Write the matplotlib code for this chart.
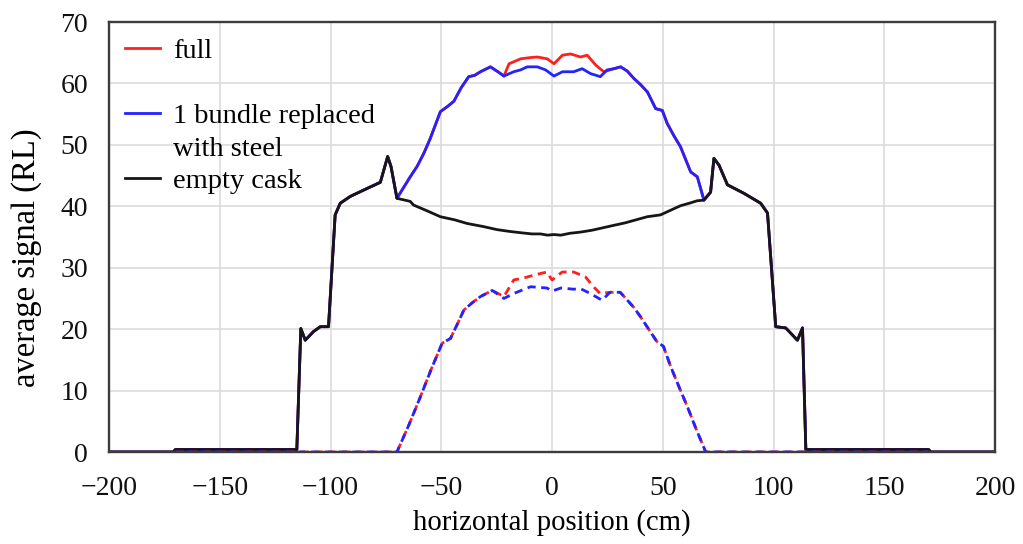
import matplotlib
matplotlib.use("Agg")
import matplotlib.pyplot as plt
import numpy as np

plt.rcParams['font.family'] = ['Liberation Serif', 'DejaVu Serif']
plt.rcParams['axes.unicode_minus'] = True

# ---- data ----
# shared outer profile (all three series coincide there)
left_x = [-200, -171, -170, -115.2, -113.4, -111.4, -107.7, -104.6, -100.9, -97.9, -95.6,
          -91.1, -83.5, -77.5, -74.2, -72.7, -70]
left_y = [0, 0, 0.4, 0.4, 20.1, 18.2, 19.6, 20.4, 20.4, 38.6, 40.5,
          41.6, 42.9, 43.9, 48.1, 46.5, 41.3]
right_x = [68.6, 71.6, 73.1, 75.4, 79.2, 86.7, 94.2, 97.3, 101, 105.5, 110.8, 113.1,
           114.6, 170, 171, 200]
right_y = [41.0, 42.3, 47.8, 46.7, 43.5, 42.1, 40.5, 38.9, 20.4, 20.2, 18.2, 20.2,
           0.4, 0.4, 0, 0]

# empty cask, central part
empty_mid_x = [-64, -62.5, -56, -50.4, -44, -38.3, -31, -24.8, -19, -14.2, -9, -5.2, -2,
               0.8, 4, 8, 12.9, 18, 23, 27.9, 33, 38, 43, 49, 55, 58.1, 62, 65.6]
empty_mid_y = [40.8, 40.2, 39.2, 38.3, 37.8, 37.2, 36.7, 36.2, 35.9, 35.7, 35.5, 35.5, 35.3,
               35.4, 35.3, 35.6, 35.8, 36.1, 36.5, 36.9, 37.3, 37.8, 38.3, 38.6, 39.6, 40.1,
               40.5, 40.9]

# full, central part (solid)
full_mid_x = [-64, -60.9, -57.9, -55, -50.4, -47, -44.3, -41, -37.6, -35, -32.3, -27.8, -24,
              -21.7, -19.4, -14.2, -10, -6.6, -2.1, 0.9, 4.7, 8.4, 12.9, 15.9, 19.7, 23.4,
              28, 31, 34, 37, 40, 43.1, 46.8, 49.8, 52, 55, 58, 62.6, 65.6]
full_mid_y = [44.8, 46.5, 48.6, 51.0, 55.4, 56.3, 57.1, 59.3, 61.1, 61.3, 61.9, 62.7, 61.8,
              61.2, 63.2, 64.0, 64.2, 64.3, 64.0, 63.2, 64.6, 64.8, 64.3, 64.6, 63.0, 61.9,
              62.4, 62.7, 62.0, 60.8, 59.8, 58.6, 55.9, 55.6, 53.5, 51.5, 49.7, 45.6, 44.8]

# 1 bundle replaced with steel, central part (solid)
steel_mid_x = [-64, -60.9, -57.9, -55, -50.4, -47, -44.3, -41, -37.6, -35, -32.3, -27.8, -24,
               -21.7, -17.3, -14.2, -11.2, -6.6, -2.9, 0.9, 4.7, 9.8, 13.6, 17.4, 21.8, 24.9,
               28, 31, 34, 37, 40, 43.1, 46.8, 49.8, 52, 55, 58, 62.6, 65.6]
steel_mid_y = [44.8, 46.5, 48.6, 51.0, 55.4, 56.3, 57.1, 59.3, 61.1, 61.3, 61.9, 62.7, 61.8,
               61.2, 61.9, 62.2, 62.7, 62.7, 62.2, 61.2, 61.9, 61.9, 62.4, 61.6, 61.1, 62.2,
               62.4, 62.7, 62.0, 60.8, 59.8, 58.6, 55.9, 55.6, 53.5, 51.5, 49.7, 45.6, 44.8]

# dashed curves
full_dash_x = [-170, -70, -64.5, -59.4, -54.5, -49.6, -45.8, -42.5, -39.8, -36, -32.3, -27.0,
               -21.7, -17.3, -12, -8.2, -2.3, 0, 4.6, 9.8, 15.1, 18.5, 21.7, 26.2, 30.8, 36.8,
               40, 42.9, 47.3, 50.3, 53.6, 57.8, 61.1, 65, 69.4, 170]
full_dash_y = [0, 0, 4.5, 9, 13.5, 17.7, 18.5, 21, 23.1, 24.3, 25.3, 26.3,
               25.3, 28.0, 28.4, 28.8, 29.3, 28.0, 29.3, 29.3, 28.5, 27.0, 25.8, 26.0, 26.0, 23.6,
               22, 20.4, 18.0, 17.2, 13.9, 10.2, 7.4, 3.8, 0, 0]
steel_dash_x = [-170, -70, -64.5, -59.4, -54.5, -49.6, -45.8, -42.5, -39.8, -36, -32.3, -27.0,
                -21.7, -17.3, -9.7, -2.3, 0, 4.1, 9.8, 12.8, 17.3, 22.6, 26.2, 30.8, 36.8,
                40, 42.9, 47.3, 50.3, 53.6, 57.8, 61.1, 65, 69.4, 170]
steel_dash_y = [0, 0, 4.5, 9, 13.5, 17.7, 18.5, 21, 23.1, 24.3, 25.3, 26.3,
                25.0, 25.8, 26.9, 26.7, 26.2, 26.7, 26.5, 26.6, 25.8, 24.7, 26.0, 26.0, 23.6,
                22, 20.4, 18.0, 17.2, 13.9, 10.2, 7.4, 3.8, 0, 0]

labels = ["full", "1 bundle replaced", "empty cask"]
second_line = "with steel"
xticks = [-200, -150, -100, -50, 0, 50, 100, 150, 200]
yticks = [0, 10, 20, 30, 40, 50, 60, 70]

RED = "#ff1f1f"
BLUE = "#2323ff"
BLACK = "#161616"

full_x = left_x + full_mid_x + right_x
full_y = left_y + full_mid_y + right_y
steel_x = left_x + steel_mid_x + right_x
steel_y = left_y + steel_mid_y + right_y
empty_x = left_x + empty_mid_x + right_x
empty_y = left_y + empty_mid_y + right_y

fig = plt.figure(figsize=(10.23, 5.44), dpi=100)
ax = fig.add_axes([109/1023, (544-452)/544, (995-109)/1023, (452-22)/544])

lw = 2.0
ax.plot(full_x, full_y, color=RED, lw=lw, label=labels[0])
ax.plot(steel_x, steel_y, color=BLUE, lw=lw, label=labels[1])
ax.plot(empty_x, empty_y, color=BLACK, lw=lw, label=labels[2])
ax.plot(full_dash_x, full_dash_y, color=RED, lw=lw, linestyle=(0, (3.0, 2.0)))
ax.plot(steel_dash_x, steel_dash_y, color=BLUE, lw=lw, linestyle=(1.2, (3.0, 2.0)))

ax.set_xlim(-200, 200)
ax.set_ylim(0, 70)
ax.set_xticks(xticks)
ax.set_yticks(yticks)
ax.grid(True, color="#dcdcdc", lw=1.2)
ax.set_axisbelow(True)
for s in ax.spines.values():
    s.set_color("#3c3c3c")
    s.set_linewidth(1.7)
ax.tick_params(axis='both', length=0, labelsize=20, colors="#111111")
ax.tick_params(axis='y', pad=15)
ax.tick_params(axis='x', pad=17)
ax.set_xlabel("horizontal position (cm)", fontsize=20.7, labelpad=6)
ax.set_ylabel("average signal (RL)", fontsize=23.5)
ax.yaxis.set_label_coords((42 - 109) / 886, (452 - 258) / 430)

leg = ax.legend(loc="upper left", frameon=False, fontsize=20.5, handlelength=1.24,
                handletextpad=0.45, borderaxespad=0.2, borderpad=0.35, labelspacing=1.38)

fig.canvas.draw()
t = leg.get_texts()[1]
bb = t.get_window_extent()
inv = ax.transAxes.inverted()
x0, y0 = inv.transform((bb.x0, bb.y0))
gap = 8 / ax.bbox.height
ax.text(x0, y0 - gap, second_line, transform=ax.transAxes, fontsize=20.5,
        va="top", ha="left", color=t.get_color())

fig.savefig("out.png", dpi=100)
